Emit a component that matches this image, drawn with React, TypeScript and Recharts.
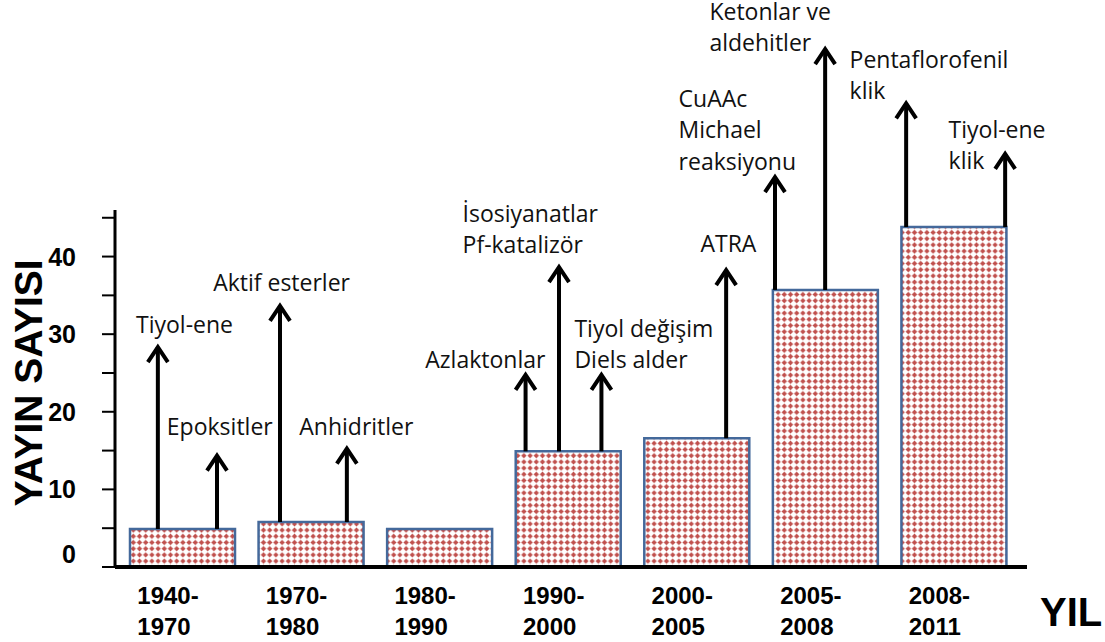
import { ComposedChart, Bar, XAxis, YAxis, ReferenceLine, ReferenceDot, Label } from 'recharts';

const categories = ['1940-1970', '1970-1980', '1980-1990', '1990-2000', '2000-2005', '2005-2008', '2008-2011'];
const publications = [4.9, 5.8, 4.9, 14.9, 16.6, 35.7, 43.8];
const yTicks = [0, 5, 10, 15, 20, 25, 30, 35, 40, 45];

// arrows: category they grow from, x on a 0..7 scale, top value, label lines, label anchor (left / first baseline)
const annotations = [
  { cat: 0, x: 0.31, top: 28.6, lines: ['Tiyol-ene'], lx: 0.14, ly: 30.2 },
  { cat: 0, x: 0.77, top: 14.6, lines: ['Epoksitler'], lx: 0.38, ly: 17.0 },
  { cat: 1, x: 1.26, top: 33.9, lines: ['Aktif esterler'], lx: 0.74, ly: 35.6 },
  { cat: 1, x: 1.78, top: 15.5, lines: ['Anhidritler'], lx: 1.41, ly: 17.0 },
  { cat: 3, x: 3.17, top: 25.0, lines: ['Azlaktonlar'], lx: 2.39, ly: 25.6 },
  { cat: 3, x: 3.43, top: 38.9, lines: ['İsosiyanatlar', 'Pf-katalizör'], lx: 2.68, ly: 44.5 },
  { cat: 3, x: 3.76, top: 25.0, lines: ['Tiyol değişim', 'Diels alder'], lx: 3.55, ly: 29.7 },
  { cat: 4, x: 4.73, top: 38.5, lines: ['ATRA'], lx: 4.53, ly: 40.6 },
  { cat: 5, x: 5.11, top: 50.5, lines: ['CuAAc', 'Michael', 'reaksiyonu'], lx: 4.36, ly: 59.3 },
  { cat: 5, x: 5.5, top: 67.0, lines: ['Ketonlar ve', 'aldehitler'], lx: 4.6, ly: 70.5 },
  { cat: 6, x: 6.13, top: 60.0, lines: ['Pentaflorofenil', 'klik'], lx: 5.69, ly: 64.3 },
  { cat: 6, x: 6.9, top: 53.5, lines: ['Tiyol-ene', 'klik'], lx: 6.46, ly: 55.3 },
];

// pos = band centre on the 0..7 scale used by the arrows
const data = categories.map((year, i) => ({ year, count: publications[i], pos: i + 0.5 }));

const BOLD = '"Liberation Sans", Arial, sans-serif';
const BODY = '"Open Sans", sans-serif';

function Arrow(props: any) {
  const { x1, y1, x2, y2 } = props;
  return (
    <g>
      <line x1={x1} y1={y1} x2={x2} y2={y2 + 2} stroke="#000" strokeWidth={4} />
      <polyline
        points={`${x2 - 10},${y2 + 17} ${x2},${y2 + 2} ${x2 + 10},${y2 + 17}`}
        fill="none"
        stroke="#000"
        strokeWidth={4}
      />
    </g>
  );
}

function makeNote(lines: string[]) {
  return (props: any) => (
    <text x={props.cx} y={props.cy} fontFamily={BODY} fontSize={23} fill="#111">
      {lines.map((l, i) => (
        <tspan key={i} x={props.cx} dy={i === 0 ? 0 : 31.5}>
          {l}
        </tspan>
      ))}
    </text>
  );
}

function YTick(props: any) {
  const { x, y, payload } = props;
  if (payload.value % 10 !== 0) return <g />;
  return (
    <text x={x - 26} y={payload.value === 0 ? y - 4 : y + 9} textAnchor="end" fontFamily={BOLD} fontWeight="bold" fontSize={25} fill="#000">
      {payload.value}
    </text>
  );
}

function XTick(props: any) {
  const { x, y, payload } = props;
  const [a, b] = String(payload.value).split('-');
  return (
    <text x={x - 45} y={y + 37} fontFamily={BOLD} fontWeight="bold" fontSize={24} fill="#000">
      <tspan x={x - 45}>{a}-</tspan>
      <tspan x={x - 45} dy={31}>{b}</tspan>
    </text>
  );
}

export default function App() {
  return (
    <div style={{ position: 'absolute', left: 0, top: 0, background: '#fff' }}>
      <ComposedChart width={1105} height={642} data={data} margin={{ top: 210, right: 78, bottom: 15, left: 15 }}>
        <defs>
          <pattern id="diamonds" width="6.2" height="6.2" patternUnits="userSpaceOnUse">
            <rect width="6.2" height="6.2" fill="#fff" />
            <path d="M3.1 0.4 L5.8 3.1 L3.1 5.8 L0.4 3.1 Z" fill="#c0504d" />
          </pattern>
        </defs>
        <XAxis
          dataKey="year"
          height={60}
          padding={{ left: 3, right: 9 }}
          tickSize={0}
          tickMargin={0}
          tick={<XTick />}
          axisLine={{ stroke: '#000', strokeWidth: 4 }}
          interval={0}
        >
          <Label
            content={(p: any) => (
              <text
                x={p.viewBox.x + p.viewBox.width + 13}
                y={p.viewBox.y + 59}
                fontFamily={BOLD}
                fontWeight="bold"
                fontSize={40}
                fill="#000"
              >
                YIL
              </text>
            )}
          />
        </XAxis>
        <XAxis
          xAxisId="num"
          dataKey="pos"
          type="number"
          domain={[0, 7]}
          ticks={[0, 7]}
          hide
          padding={{ left: 3, right: 9 }}
          allowDataOverflow
        />
        <YAxis
          width={100}
          domain={[0, 46]}
          ticks={yTicks}
          interval={0}
          tickSize={13}
          tickMargin={0}
          tick={<YTick />}
          tickLine={{ stroke: '#000', strokeWidth: 2 }}
          axisLine={{ stroke: '#000', strokeWidth: 3 }}
          allowDataOverflow
        >
          <Label
            content={() => (
              <text
                x={42}
                y={383}
                transform="rotate(-90, 42, 383)"
                textAnchor="middle"
                fontFamily={BOLD}
                fontWeight="bold"
                fontSize={39}
                fill="#000"
              >
                YAYIN SAYISI
              </text>
            )}
          />
        </YAxis>
        <Bar dataKey="count" barSize={105} fill="url(#diamonds)" stroke="#44699b" strokeWidth={2.5} isAnimationActive={false} />
        {annotations.map((a, i) => (
          <ReferenceLine
            key={`arrow-${i}`}
            xAxisId="num"
            ifOverflow="visible"
            segment={[
              { x: a.x, y: publications[a.cat] },
              { x: a.x, y: a.top },
            ]}
            shape={Arrow}
          />
        ))}
        {annotations.map((a, i) => (
          <ReferenceDot key={`note-${i}`} xAxisId="num" x={a.lx} y={a.ly} ifOverflow="visible" shape={makeNote(a.lines)} />
        ))}
      </ComposedChart>
    </div>
  );
}
